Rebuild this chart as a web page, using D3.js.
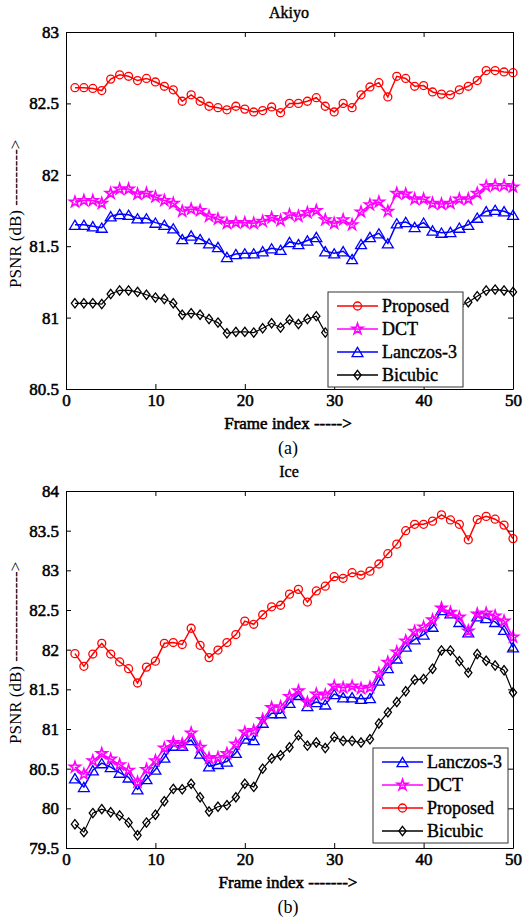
<!DOCTYPE html>
<html>
<head>
<meta charset="utf-8">
<script src="https://cdn.jsdelivr.net/npm/d3@7"></script>
<style>
  body { margin: 0; background: #fff; }
  text { font-family: "Liberation Serif", "Times New Roman", serif; fill: #000; }
  .heavy { stroke: #000; stroke-width: 0.55px; }
</style>
</head>
<body>
<div id="chart"></div>
<script>

// frame index shared by both panels
const frames = d3.range(1, 51);

// Akiyo sequence (PSNR, dB)
const akiyoProposed = [82.61,82.61,82.605,82.59,82.67,82.70,82.69,82.66,82.675,82.65,
  82.62,82.595,82.515,82.56,82.515,82.48,82.47,82.455,82.48,82.46,
  82.44,82.45,82.475,82.435,82.50,82.50,82.515,82.54,82.48,82.44,
  82.50,82.47,82.56,82.615,82.645,82.545,82.69,82.675,82.62,82.625,
  82.58,82.565,82.56,82.595,82.62,82.66,82.73,82.73,82.72,82.715];
const akiyoDCT = [81.81,81.82,81.82,81.80,81.87,81.90,81.90,81.865,81.87,81.845,
  81.82,81.80,81.745,81.76,81.75,81.71,81.69,81.66,81.665,81.665,
  81.66,81.675,81.70,81.68,81.72,81.71,81.735,81.75,81.685,81.66,
  81.685,81.65,81.74,81.79,81.81,81.745,81.87,81.865,81.83,81.83,
  81.80,81.795,81.80,81.83,81.83,81.87,81.92,81.925,81.925,81.915];
const akiyoLanczos = [81.65,81.65,81.64,81.63,81.71,81.725,81.72,81.695,81.695,81.665,
  81.65,81.625,81.55,81.575,81.55,81.52,81.495,81.425,81.445,81.45,
  81.45,81.465,81.485,81.475,81.53,81.515,81.54,81.565,81.465,81.45,
  81.465,81.41,81.515,81.565,81.59,81.52,81.66,81.67,81.635,81.665,
  81.61,81.595,81.60,81.63,81.65,81.70,81.745,81.755,81.745,81.72];
const akiyoBicubic = [81.10,81.10,81.10,81.095,81.165,81.19,81.19,81.18,81.16,81.14,
  81.13,81.10,81.02,81.03,81.02,80.99,80.965,80.89,80.90,80.90,
  80.895,80.925,80.96,80.93,80.985,80.955,80.99,81.01,80.895,80.89,
  80.90,80.85,80.95,81.00,81.03,80.96,81.10,81.11,81.08,81.10,
  81.05,81.04,81.05,81.08,81.108,81.15,81.19,81.196,81.19,81.18];

// Ice sequence (PSNR, dB)
const iceProposed = [81.95,81.79,81.945,82.08,81.945,81.845,81.76,81.58,81.78,81.855,
  82.08,82.09,82.065,82.27,82.055,81.90,81.995,82.09,82.19,82.36,
  82.32,82.44,82.54,82.56,82.70,82.76,82.60,82.74,82.80,82.92,
  82.90,82.97,82.94,82.99,83.08,83.21,83.33,83.50,83.58,83.58,
  83.62,83.70,83.635,83.58,83.385,83.64,83.68,83.645,83.57,83.40];
const iceDCT = [80.52,80.43,80.60,80.69,80.62,80.55,80.48,80.33,80.49,80.60,
  80.76,80.83,80.81,80.95,80.77,80.63,80.64,80.69,80.81,80.96,
  80.98,81.12,81.27,81.28,81.41,81.48,81.335,81.44,81.43,81.54,
  81.52,81.54,81.51,81.525,81.70,81.84,81.97,82.11,82.23,82.285,
  82.375,82.525,82.47,82.41,82.235,82.45,82.46,82.425,82.36,82.16];
const iceLanczos = [80.38,80.27,80.48,80.57,80.52,80.45,80.39,80.24,80.37,80.49,
  80.64,80.79,80.79,80.86,80.69,80.53,80.56,80.59,80.70,80.88,
  80.86,81.08,81.20,81.20,81.33,81.43,81.29,81.34,81.31,81.44,
  81.40,81.40,81.38,81.39,81.61,81.77,81.89,82.04,82.13,82.19,
  82.29,82.50,82.46,82.35,82.22,82.42,82.40,82.35,82.25,82.03];
const iceBicubic = [79.80,79.70,79.94,79.99,79.95,79.91,79.82,79.66,79.82,79.92,
  80.09,80.245,80.24,80.31,80.14,79.96,80.02,80.04,80.14,80.31,
  80.27,80.50,80.63,80.67,80.77,80.92,80.79,80.83,80.76,80.90,
  80.85,80.85,80.83,80.87,81.07,81.21,81.34,81.475,81.62,81.63,
  81.76,81.99,81.99,81.855,81.71,81.945,81.86,81.80,81.74,81.46];

// tick labels
const xTicks = [0, 10, 20, 30, 40, 50];
const akiyoTicks = [80.5, 81, 81.5, 82, 82.5, 83];
const iceTicks = [79.5, 80, 80.5, 81, 81.5, 82, 82.5, 83, 83.5, 84];

const W = 530, H = 920;
const plotLeft = 66, plotRight = 513;

const svg = d3.select("#chart").append("svg")
    .attr("width", W)
    .attr("height", H)
    .style("display", "block");

svg.append("rect").attr("width", W).attr("height", H).attr("fill", "#fff");

// marker shapes (MATLAB style 'o', 'p', '^', 'd')
const triangleUp = {
    draw(ctx, size) {
        let w = Math.sqrt(size);
        ctx.moveTo(0, -0.44 * w);
        ctx.lineTo(0.52 * w, 0.44 * w);
        ctx.lineTo(-0.52 * w, 0.44 * w);
        ctx.closePath();
    }
};
const tallDiamond = {
    draw(ctx, size) {
        let w = Math.sqrt(size);
        ctx.moveTo(0, -0.58 * w);
        ctx.lineTo(0.45 * w, 0);
        ctx.lineTo(0, 0.58 * w);
        ctx.lineTo(-0.45 * w, 0);
        ctx.closePath();
    }
};

function markerPath(kind) {
    if (kind === "circle") return d3.symbol(d3.symbolCircle, 50)();
    if (kind === "star") return d3.symbol(d3.symbolStar, 36)();
    if (kind === "triangle") return d3.symbol(triangleUp, 110)();
    return d3.symbol(tallDiamond, 64)();
}

const styles = {
    Proposed:    {color: "#ff0000", marker: "circle"},
    DCT:         {color: "#ff00ff", marker: "star"},
    "Lanczos-3": {color: "#0000ff", marker: "triangle"},
    Bicubic:     {color: "#000000", marker: "diamond"}
};

function drawPanel(p) {

    let x = d3.scaleLinear().domain([0, 50]).range([plotLeft, plotRight]);
    let y = d3.scaleLinear().domain(p.yDomain).range([p.bottom, p.top]);

    let g = svg.append("g");

    // series: lines first, then markers
    p.series.forEach(function(s) {
        let st = styles[s.name];
        let pts = frames.map(function(f, i) { return {f: f, v: s.values[i]}; });

        g.append("path")
            .datum(pts)
            .attr("fill", "none")
            .attr("stroke", st.color)
            .attr("stroke-width", s.name === "Bicubic" ? 1.2 : 1.5)
            .attr("d", d3.line()
                .x(function(d) { return x(d.f); })
                .y(function(d) { return y(d.v); }));

        g.append("g").selectAll("path")
            .data(pts)
            .enter().append("path")
            .attr("transform", function(d) { return "translate(" + x(d.f) + "," + y(d.v) + ")"; })
            .attr("d", markerPath(st.marker))
            .attr("fill", "none")
            .attr("stroke", st.color)
            .attr("stroke-width", st.marker === "star" ? 1.6 : 1.3);
    });

    // axes box with inward ticks
    let axisFont = function(sel) {
        sel.attr("font-family", null).attr("font-size", null);
        sel.selectAll("text")
            .attr("class", "heavy")
            .style("font-size", "17px")
            .attr("fill", "#000");
        sel.selectAll("line").attr("stroke", "#000");
        sel.select(".domain").attr("stroke", "#000");
    };

    svg.append("g")
        .attr("transform", "translate(0," + p.bottom + ")")
        .call(d3.axisBottom(x).tickValues(xTicks).tickSizeInner(-5).tickSizeOuter(0).tickPadding(5))
        .call(axisFont);

    svg.append("g")
        .attr("transform", "translate(0," + p.top + ")")
        .call(d3.axisTop(x).tickValues(xTicks).tickSizeInner(-5).tickSizeOuter(0).tickFormat(""))
        .call(axisFont);

    svg.append("g")
        .attr("transform", "translate(" + plotLeft + ",0)")
        .call(d3.axisLeft(y).tickValues(p.yTicks).tickSizeInner(-5).tickSizeOuter(0).tickPadding(7)
            .tickFormat(d3.format("~g")))
        .call(axisFont);

    svg.append("g")
        .attr("transform", "translate(" + plotRight + ",0)")
        .call(d3.axisRight(y).tickValues(p.yTicks).tickSizeInner(-5).tickSizeOuter(0).tickFormat(""))
        .call(axisFont);

    // title
    svg.append("text")
        .attr("class", "heavy")
        .attr("x", 289)
        .attr("y", p.top - 14)
        .attr("text-anchor", "middle")
        .style("font-size", "16px")
        .style("stroke-width", "0.4px")
        .text(p.title);

    // x label
    svg.append("text")
        .attr("class", "heavy")
        .attr("x", 288)
        .attr("y", p.bottom + 40)
        .attr("text-anchor", "middle")
        .style("font-size", "17px")
        .text(p.xLabel);

    // caption (a)/(b)
    svg.append("text")
        .attr("x", 288)
        .attr("y", p.bottom + 65)
        .attr("text-anchor", "middle")
        .style("font-size", "18px")
        .text(p.caption);

    // y label
    svg.append("text")
        .attr("transform", "translate(15," + p.yLabelStart + ") rotate(-90)")
        .attr("dy", "0.35em")
        .attr("text-anchor", "start")
        .style("font-size", "17px")
        .text(p.yLabel);

    // legend
    let lg = svg.append("g")
        .attr("transform", "translate(" + p.legendX + "," + p.legendY + ")");

    lg.append("rect")
        .attr("width", 135)
        .attr("height", 95)
        .attr("fill", "#fff")
        .attr("stroke", "#333")
        .attr("stroke-width", 1);

    p.legendOrder.forEach(function(name, i) {
        let st = styles[name];
        let ry = 14 + i * 23;
        lg.append("line")
            .attr("x1", 9).attr("x2", 50)
            .attr("y1", ry).attr("y2", ry)
            .attr("stroke", st.color)
            .attr("stroke-width", 1.5);
        lg.append("path")
            .attr("transform", "translate(29.5," + ry + ")")
            .attr("d", markerPath(st.marker))
            .attr("fill", "none")
            .attr("stroke", st.color)
            .attr("stroke-width", st.marker === "star" ? 1.6 : 1.3);
        lg.append("text")
            .attr("class", "heavy")
            .attr("x", 54)
            .attr("y", ry)
            .attr("dy", "0.35em")
            .style("font-size", "18px")
            .style("stroke-width", "0.4px")
            .text(name);
    });
}

drawPanel({
    top: 32, bottom: 389,
    yDomain: [80.5, 83],
    yTicks: akiyoTicks,
    title: "Akiyo",
    caption: "(a)",
    xLabel: "Frame index ----->",
    yLabel: "PSNR (dB) ---------->",
    yLabelStart: 288,
    legendX: 328, legendY: 292,
    legendOrder: ["Proposed", "DCT", "Lanczos-3", "Bicubic"],
    series: [
        {name: "Proposed", values: akiyoProposed},
        {name: "DCT", values: akiyoDCT},
        {name: "Lanczos-3", values: akiyoLanczos},
        {name: "Bicubic", values: akiyoBicubic}
    ]
});

drawPanel({
    top: 491, bottom: 848,
    yDomain: [79.5, 84],
    yTicks: iceTicks,
    title: "Ice",
    caption: "(b)",
    xLabel: "Frame index ------->",
    yLabel: "PSNR (dB) ---------------->",
    yLabelStart: 744,
    legendX: 373, legendY: 748,
    legendOrder: ["Lanczos-3", "DCT", "Proposed", "Bicubic"],
    series: [
        {name: "Lanczos-3", values: iceLanczos},
        {name: "DCT", values: iceDCT},
        {name: "Proposed", values: iceProposed},
        {name: "Bicubic", values: iceBicubic}
    ]
});

</script>
</body>
</html>
